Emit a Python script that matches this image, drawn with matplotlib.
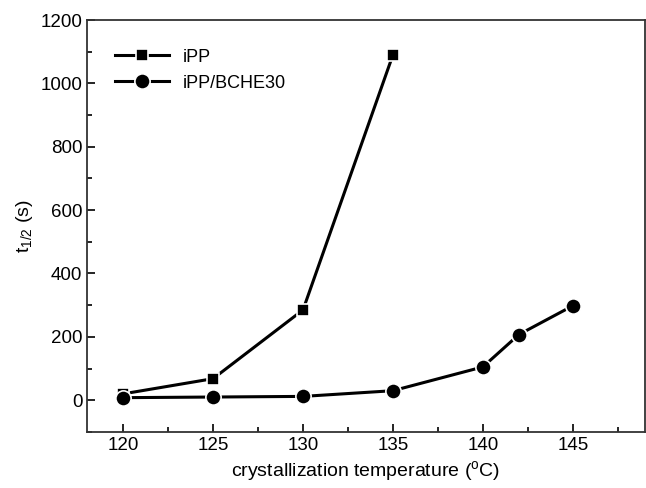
import matplotlib
matplotlib.use("Agg")
import matplotlib.pyplot as plt
from matplotlib.ticker import MultipleLocator

plt.rcParams["font.family"] = ["Liberation Sans", "DejaVu Sans"]
plt.rcParams["mathtext.fontset"] = "custom"
plt.rcParams["mathtext.rm"] = "Liberation Sans"
plt.rcParams["mathtext.it"] = "Liberation Sans"

# data
temp_ipp = [120, 125, 130, 135]
t_half_ipp = [20, 68, 285, 1090]

temp_bche = [120, 125, 130, 135, 140, 142, 145]
t_half_bche = [8, 10, 12, 30, 105, 207, 298]

fig = plt.figure(figsize=(6.46, 4.88), dpi=100)
ax = fig.add_axes([0.135, 0.115, 0.863, 0.844])

ax.plot(temp_ipp, t_half_ipp, color="black", lw=2.2, marker="s", ms=9,
        mec="white", mew=1.2, label="iPP")
ax.plot(temp_bche, t_half_bche, color="black", lw=2.2, marker="o", ms=11,
        mec="white", mew=1.2, label="iPP/BCHE30")

ax.set_xlim(118, 149)
ax.set_ylim(-100, 1200)
ax.xaxis.set_major_locator(MultipleLocator(5))
ax.xaxis.set_minor_locator(MultipleLocator(2.5))
ax.yaxis.set_major_locator(MultipleLocator(200))
ax.yaxis.set_minor_locator(MultipleLocator(100))
ax.tick_params(which="both", direction="in", top=False, right=False,
               labelsize=13.5, width=1.2)
ax.tick_params(which="major", length=6)
ax.tick_params(which="minor", length=3.5)
for s in ax.spines.values():
    s.set_linewidth(1.3)
    s.set_color("#333333")

ax.set_xlabel(r"crystallization temperature ($^{\mathrm{o}}$C)", fontsize=14)
ax.set_ylabel(r"t$_{\mathrm{1/2}}$ (s)", fontsize=14)

ax.legend(loc="upper left", frameon=False, fontsize=13, handlelength=3.0,
          bbox_to_anchor=(0.02, 0.97), labelspacing=0.5)

fig.savefig("out.png", dpi=100)
